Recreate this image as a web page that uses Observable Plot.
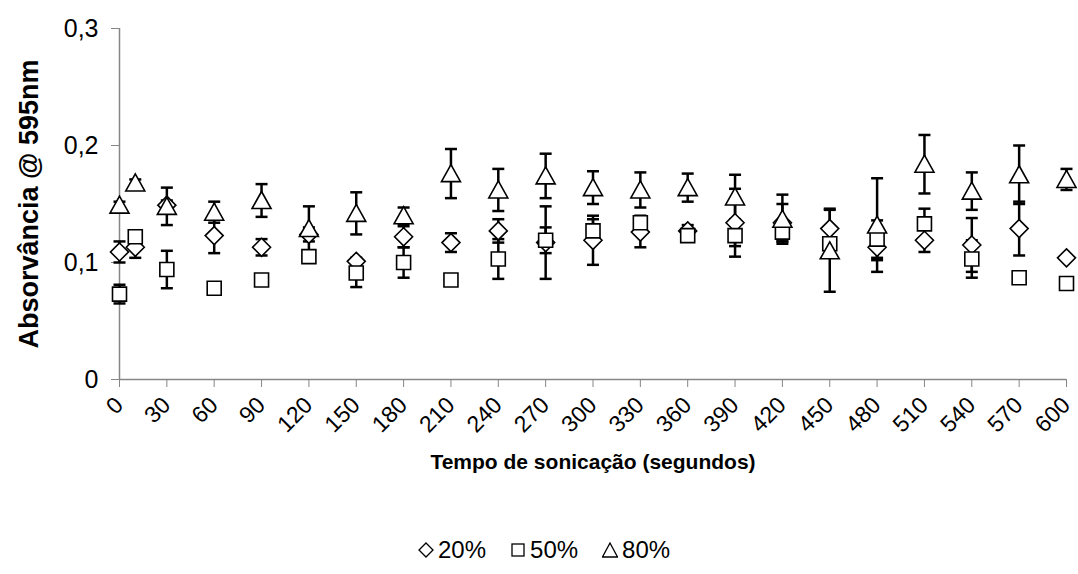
<!DOCTYPE html>
<html>
<head>
<meta charset="utf-8">
<script src="https://cdn.jsdelivr.net/npm/d3@7"></script>
<script src="https://cdn.jsdelivr.net/npm/@observablehq/plot@0.6"></script>
<style>
  html, body { margin: 0; padding: 0; background: #fff; }
  #chart { width: 1078px; height: 574px; position: relative; font-family: "Liberation Sans", Arial, sans-serif; }
  #legend { position: absolute; left: 418px; top: 536px; height: 28px; display: flex; align-items: center; font-size: 24px; color: #000; white-space: nowrap; }
  #legend .item { display: flex; align-items: center; margin-right: 24px; }
  #legend svg { margin-right: 4px; }
</style>
</head>
<body>
<div id="chart"></div>
<script>
// Time (seconds)
const times = [0, 10, 30, 60, 90, 120, 150, 180, 210, 240, 270, 300, 330, 360, 390, 420, 450, 480, 510, 540, 570, 600];
// 20% series (diamond)
const v20 = [0.109, 0.113, 0.149, 0.123, 0.113, 0.124, 0.101, 0.122, 0.117, 0.127, 0.117, 0.119, 0.126, 0.127, 0.134, 0.134, 0.129, 0.113, 0.119, 0.115, 0.129, 0.104];
const e20 = [0.009, 0.009, 0.004, 0.015, 0.007, 0.006, 0.003, 0.009, 0.008, 0.010, 0.031, 0.021, 0.013, 0.005, 0.029, 0.016, 0.017, 0.011, 0.010, 0.023, 0.023, 0.000];
// 50% series (square)
const v50 = [0.073, 0.122, 0.094, 0.078, 0.085, 0.105, 0.091, 0.100, 0.085, 0.103, 0.119, 0.127, 0.134, 0.123, 0.123, 0.126, 0.116, 0.120, 0.133, 0.103, 0.087, 0.082];
const e50 = [0.008, 0.000, 0.016, 0.000, 0.000, 0.003, 0.012, 0.013, 0.000, 0.017, 0.011, 0.010, 0.006, 0.003, 0.009, 0.008, 0.005, 0.016, 0.013, 0.016, 0.000, 0.000];
// 80% series (triangle)
const v80 = [0.149, 0.168, 0.148, 0.143, 0.153, 0.129, 0.142, 0.140, 0.176, 0.162, 0.174, 0.164, 0.162, 0.164, 0.156, 0.137, 0.110, 0.132, 0.184, 0.161, 0.175, 0.171];
const e80 = [0.003, 0.003, 0.016, 0.009, 0.014, 0.019, 0.018, 0.007, 0.021, 0.018, 0.019, 0.014, 0.015, 0.012, 0.019, 0.021, 0.035, 0.040, 0.025, 0.016, 0.025, 0.009];
const xTicks = d3.range(0, 601, 30);
const yTicks = [0, 0.1, 0.2, 0.3];
const seriesNames = ["20%", "50%", "80%"];

const diamond = {draw(c) { const h = 9; c.moveTo(0, -h); c.lineTo(h, 0); c.lineTo(0, h); c.lineTo(-h, 0); c.closePath(); }};
const square = {draw(c) { const h = 7; c.moveTo(-h, -h); c.lineTo(h, -h); c.lineTo(h, h); c.lineTo(-h, h); c.closePath(); }};
const triangle = {draw(c) { c.moveTo(0, -9); c.lineTo(9.5, 8); c.lineTo(-9.5, 8); c.closePath(); }};
const cap = {draw(c) { c.moveTo(-6, 0); c.lineTo(6, 0); }};

const series = [
  {name: seriesNames[0], v: v20, e: e20, symbol: diamond},
  {name: seriesNames[1], v: v50, e: e50, symbol: square},
  {name: seriesNames[2], v: v80, e: e80, symbol: triangle}
].map(s => ({...s, data: times.map((t, i) => ({t, y: s.v[i], lo: s.v[i] - s.e[i], hi: s.v[i] + s.e[i]}))}));

const fmt = d => d === 0 ? "0" : d3.format(".1f")(d).replace(".", ",");
const grey = "#868686";

const marks = [
  Plot.ruleX([0], {stroke: grey, strokeWidth: 1.5}),
  Plot.ruleY([0], {stroke: grey, strokeWidth: 1.5}),
  Plot.axisY({ticks: yTicks, tickFormat: () => "", tickSize: 8, stroke: grey, label: null}),
  Plot.axisX({ticks: xTicks, tickFormat: () => "", tickSize: 8, stroke: grey, label: null}),
  Plot.text(yTicks, {y: d => d, frameAnchor: "left", textAnchor: "end", dx: -21, text: fmt, fontSize: 25, fill: "black"}),
  Plot.text(xTicks, {x: d => d, frameAnchor: "bottom", textAnchor: "end", rotate: -45, dx: 5, dy: 27, text: d => String(d), fontSize: 23, fill: "black"}),
  Plot.text(["Absorvância @ 595nm"], {frameAnchor: "left", textAnchor: "middle", dx: -90, rotate: -90, fontWeight: "bold", fontSize: 27, fill: "black"}),
  Plot.text(["Tempo de sonicação (segundos)"], {frameAnchor: "bottom", dy: 89, fontWeight: "bold", fontSize: 21, fill: "black"})
];
for (const s of series) {
  marks.push(Plot.ruleX(s.data, {x: "t", y1: "lo", y2: "hi", stroke: "black", strokeWidth: 2.5}));
  marks.push(Plot.dot(s.data, {x: "t", y: "hi", symbol: cap, r: 5, stroke: "black", strokeWidth: 2.5}));
  marks.push(Plot.dot(s.data, {x: "t", y: "lo", symbol: cap, r: 5, stroke: "black", strokeWidth: 2.5}));
}
for (const s of series) {
  marks.push(Plot.dot(s.data, {x: "t", y: "y", symbol: s.symbol, r: 5, fill: "white", stroke: "black", strokeWidth: 1.6}));
}

const plot = Plot.plot({
  width: 1078,
  height: 520,
  marginLeft: 119,
  marginRight: 12,
  marginTop: 28,
  marginBottom: 141,
  x: {domain: [0, 600]},
  y: {domain: [0, 0.3]},
  style: {fontSize: "22px", fontFamily: "Liberation Sans, Arial, sans-serif", background: "white", color: "black", overflow: "visible"},
  marks
});
document.getElementById("chart").appendChild(plot);

const legendShapes = [
  '<polygon points="8,1 15,8 8,15 1,8" fill="white" stroke="black" stroke-width="1.3"/>',
  '<rect x="2" y="2" width="12" height="12" fill="white" stroke="black" stroke-width="1.3"/>',
  '<polygon points="8,1 15.5,15 0.5,15" fill="white" stroke="black" stroke-width="1.3"/>'
];
const legend = document.createElement("div");
legend.id = "legend";
legend.innerHTML = seriesNames.map((n, i) =>
  `<span class="item"><svg width="16" height="16" viewBox="0 0 16 16">${legendShapes[i]}</svg><span>${n}</span></span>`).join("");
document.getElementById("chart").appendChild(legend);
</script>
</body>
</html>
